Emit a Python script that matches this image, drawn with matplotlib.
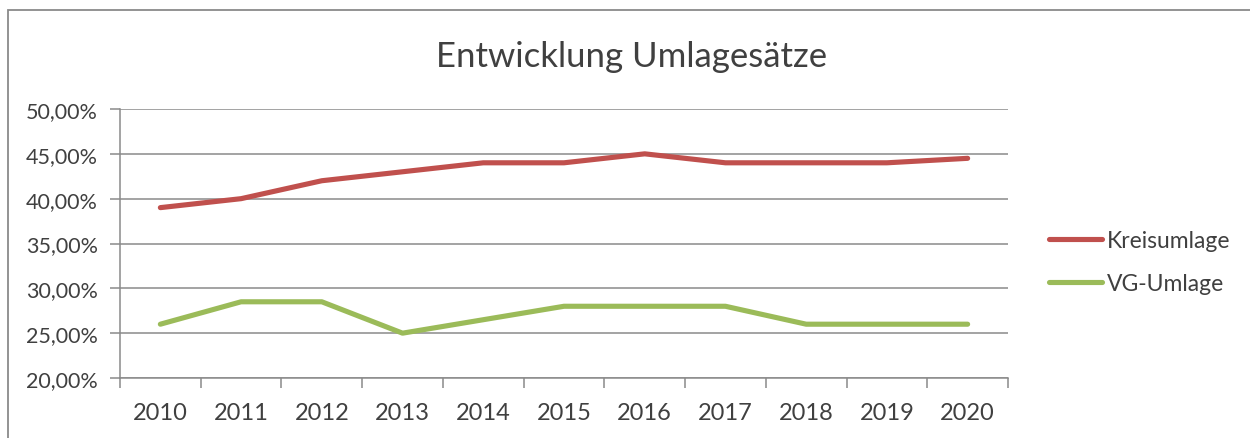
import matplotlib
matplotlib.use("Agg")
import matplotlib.pyplot as plt
from matplotlib.patches import Rectangle
from matplotlib.ticker import FuncFormatter, FixedLocator

years = ["2010", "2011", "2012", "2013", "2014", "2015", "2016", "2017", "2018", "2019", "2020"]
kreisumlage = [39.0, 40.0, 42.0, 43.0, 44.0, 44.0, 45.0, 44.0, 44.0, 44.0, 44.5]
vg_umlage = [26.0, 28.5, 28.5, 25.0, 26.5, 28.0, 28.0, 28.0, 26.0, 26.0, 26.0]
y_ticks = [20, 25, 30, 35, 40, 45, 50]

plt.rcParams['font.family'] = ['Lato', 'DejaVu Sans']
W, H = 1250, 439
fig = plt.figure(figsize=(W / 100, H / 100), dpi=100)
fig.patch.set_facecolor('white')

# outer chart frame (extends beyond right and bottom edges)
fig.patches.append(Rectangle((8 / W, -0.2), 1.2, (H - 11) / H + 0.2, transform=fig.transFigure,
                             fill=False, edgecolor='#8a8a8a', linewidth=1.3))

ax = fig.add_axes([120 / W, (H - 379) / H, (1008 - 120) / W, (379 - 110) / H])
x = list(range(len(years)))
ax.plot(x, kreisumlage, color='#C0504D', linewidth=3.7, solid_capstyle='round',
        solid_joinstyle='round', label='Kreisumlage', zorder=3)
ax.plot(x, vg_umlage, color='#9BBB59', linewidth=3.7, solid_capstyle='round',
        solid_joinstyle='round', label='VG-Umlage', zorder=3)

ax.set_xlim(-0.5, len(years) - 0.5)
ax.set_ylim(20, 50)
ax.set_yticks(y_ticks)
ax.yaxis.set_major_formatter(FuncFormatter(lambda v, p: f"{v:.2f}".replace('.', ',') + "%"))
ax.grid(axis='y', color='#8a8a8a', linewidth=1.1)
ax.set_axisbelow(True)

ax.set_xticks(x)
ax.set_xticklabels(years)
ax.xaxis.set_minor_locator(FixedLocator([i - 0.5 for i in range(len(years) + 1)]))
ax.tick_params(axis='x', which='major', length=0, pad=17, labelsize=17, labelcolor='#404040')
ax.tick_params(axis='x', which='minor', length=7, width=1.1, color='#8a8a8a')
ax.tick_params(axis='y', which='major', length=7, width=1.1, color='#8a8a8a',
               labelsize=15.5, labelcolor='#404040', pad=9)

for s in ['top', 'right']:
    ax.spines[s].set_visible(False)
for s in ['left', 'bottom']:
    ax.spines[s].set_color('#8a8a8a')
    ax.spines[s].set_linewidth(1.1)

fig.text(632 / W, 1 - 57 / H, 'Entwicklung Umlagesätze', ha='center', va='center',
         fontsize=25, color='#404040')

leg = ax.legend(loc='center left', bbox_to_anchor=(1038 / W, 1 - 263 / H),
                bbox_transform=fig.transFigure, frameon=False, fontsize=16.5,
                handlelength=2.3, handletextpad=0.2, labelspacing=1.0, borderpad=0)
for t in leg.get_texts():
    t.set_color('#404040')

fig.savefig('out.png', dpi=100, facecolor='white')
